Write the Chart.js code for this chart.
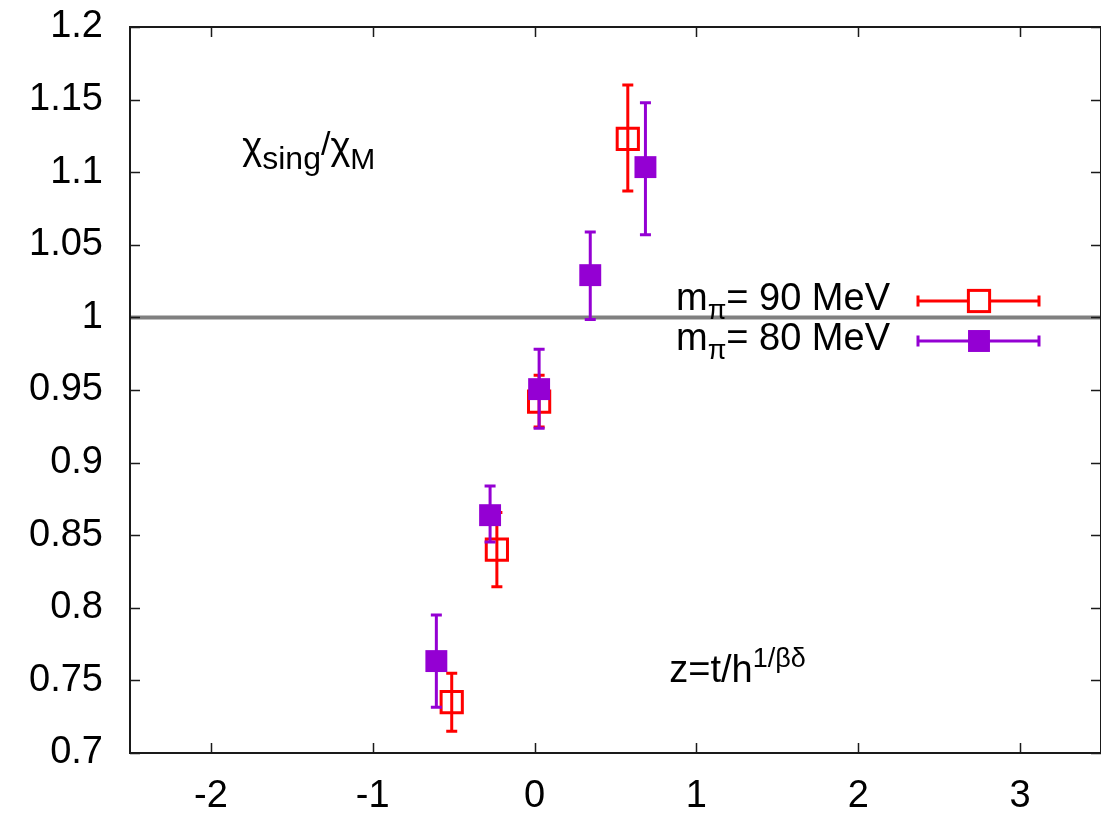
<!DOCTYPE html>
<html>
<head>
<meta charset="utf-8">
<script src="https://cdn.jsdelivr.net/npm/chart.js@4.4.1/dist/chart.umd.min.js"></script>
<style>
  html, body { margin: 0; padding: 0; background: #fff; }
  canvas { display: block; }
</style>
</head>
<body>
<canvas id="chart" width="1101" height="813"></canvas>
<script>
// axis ranges and ticks
const xMin = -2.5, xMax = 3.5;
const yMin = 0.7, yMax = 1.2;
const xTicks = [-2, -1, 0, 1, 2, 3];
const yTicks = [0.7, 0.75, 0.8, 0.85, 0.9, 0.95, 1, 1.05, 1.1, 1.15, 1.2];
const yTickLabels = ["0.7", "0.75", "0.8", "0.85", "0.9", "0.95", "1", "1.05", "1.1", "1.15", "1.2"];

// m_pi = 90 MeV (open red squares)
const x90 = [-0.512, -0.233, 0.028, 0.576];
const y90 = [0.735, 0.840, 0.942, 1.123];
const lo90 = [0.715, 0.8145, 0.9246, 1.087];
const hi90 = [0.755, 0.8657, 0.9602, 1.160];

// m_pi = 80 MeV (filled purple squares)
const x80 = [-0.607, -0.275, 0.028, 0.344, 0.685];
const y80 = [0.7633, 0.8638, 0.9506, 1.0291, 1.1035];
const lo80 = [0.7315, 0.8453, 0.9237, 0.9986, 1.0570];
const hi80 = [0.795, 0.8838, 0.9781, 1.0588, 1.1479];

const refLineY = 1;

const FONT = '"Liberation Sans", Arial, Helvetica, sans-serif';
const TICK_SIZE = 38;

function pts(xs, ys) {
    return xs.map((v, i) => ({x: v, y: ys[i]}));
}

// keep the plot box where it is, no extra room for tick labels
function noPad(s) {
    s.paddingTop = 0; s.paddingBottom = 0;
    s.paddingLeft = 0; s.paddingRight = 0;
}

/* ---------- ERROR BARS (drawn just before each dataset's points) ---------- */
const errorBars = {
    id: 'errorBars',
    beforeDatasetDraw(chart, args) {
        const ds = chart.data.datasets[args.index];
        if (!ds.errLow) return;
        const ctx = chart.ctx;
        const xs = chart.scales.x, ys = chart.scales.y;
        ctx.save();
        ctx.strokeStyle = ds.borderColor === 'transparent' ? ds.backgroundColor : ds.borderColor;
        ctx.lineWidth = ds.errWidth;
        ds.data.forEach((p, i) => {
            const px = xs.getPixelForValue(p.x);
            const pLo = ys.getPixelForValue(ds.errLow[i]);
            const pHi = ys.getPixelForValue(ds.errHigh[i]);
            ctx.beginPath();
            ctx.moveTo(px, pLo); ctx.lineTo(px, pHi);
            ctx.moveTo(px - 5.5, pLo); ctx.lineTo(px + 5.5, pLo);
            ctx.moveTo(px - 5.5, pHi); ctx.lineTo(px + 5.5, pHi);
            ctx.stroke();
        });
        ctx.restore();
    }
};

/* ---------- FRAME, INNER TICKS, LABELS, LEGEND ---------- */
function richText(ctx, parts, x, y) {
    // parts: [text, size, dy]
    let cx = x;
    parts.forEach(([t, size, dy]) => {
        ctx.font = size + 'px ' + FONT;
        ctx.fillText(t, cx, y + dy);
        cx += ctx.measureText(t).width;
    });
    return cx;
}

const decorations = {
    id: 'decorations',
    afterDraw(chart) {
        const ctx = chart.ctx;
        const a = chart.chartArea;
        const xs = chart.scales.x, ys = chart.scales.y;
        ctx.save();

        // frame
        ctx.strokeStyle = '#1a1a1a';
        ctx.lineWidth = 2;
        ctx.strokeRect(a.left, a.top, a.right - a.left, a.bottom - a.top);

        // inner ticks, mirrored
        ctx.lineWidth = 1.5;
        ctx.beginPath();
        xTicks.forEach(v => {
            const px = Math.round(xs.getPixelForValue(v)) + 0.5;
            ctx.moveTo(px, a.bottom); ctx.lineTo(px, a.bottom - 10);
            ctx.moveTo(px, a.top); ctx.lineTo(px, a.top + 10);
        });
        yTicks.forEach(v => {
            const py = Math.round(ys.getPixelForValue(v)) + 0.5;
            ctx.moveTo(a.left, py); ctx.lineTo(a.left + 10, py);
            ctx.moveTo(a.right, py); ctx.lineTo(a.right - 10, py);
        });
        ctx.stroke();

        // annotations
        ctx.fillStyle = '#000';
        ctx.textAlign = 'left';
        ctx.textBaseline = 'alphabetic';
        let bx = xs.getPixelForValue(-1.806), by = ys.getPixelForValue(1.109);
        richText(ctx, [['\u03c7', 38, 0], ['sing', 32, 10], ['/', 34, -4], ['\u03c7', 38, 0], ['M', 30, 10]], bx, by);

        bx = xs.getPixelForValue(0.832); by = ys.getPixelForValue(0.749);
        richText(ctx, [['z=t/h', 38, 0], ['1/\u03b2\u03b4', 27, -15]], bx, by);

        // legend
        const entries = chart.data.datasets.filter(d => d.legendText).sort((p, q) => p.legendRank - q.legendRank);
        entries.forEach((d, i) => {
            const rowY = a.top + 274 + i * 40;
            const txtRight = a.right - 211;
            const parts = [['m', 38, 0], ['\u03c0', 27, 9], ['= ' + d.legendText, 38, 0]];
            let w = 0;
            parts.forEach(([t, s]) => { ctx.font = s + 'px ' + FONT; w += ctx.measureText(t).width; });
            ctx.fillStyle = '#000';
            richText(ctx, parts, txtRight - w, rowY + 9);

            const x1 = a.right - 183, x2 = a.right - 62, xm = (x1 + x2) / 2 + 0.5;
            const col = d.backgroundColor === 'transparent' ? d.borderColor : d.backgroundColor;
            ctx.strokeStyle = col;
            ctx.lineWidth = d.errWidth;
            ctx.beginPath();
            ctx.moveTo(x1, rowY); ctx.lineTo(x2, rowY);
            ctx.moveTo(x1, rowY - 5.5); ctx.lineTo(x1, rowY + 5.5);
            ctx.moveTo(x2, rowY - 5.5); ctx.lineTo(x2, rowY + 5.5);
            ctx.stroke();
            const side = d.pointRadius * Math.SQRT2;
            if (d.backgroundColor === 'transparent') {
                ctx.fillStyle = '#fff';
                ctx.fillRect(xm - side / 2, rowY - side / 2, side, side);
                ctx.lineWidth = d.borderWidth;
                ctx.strokeRect(xm - side / 2, rowY - side / 2, side, side);
            } else {
                ctx.fillStyle = col;
                ctx.fillRect(xm - side / 2, rowY - side / 2, side, side);
            }
        });
        ctx.restore();
    }
};

new Chart(document.getElementById('chart'), {
    type: 'scatter',
    data: {
        datasets: [
            {
                label: '80 MeV',
                legendText: '80 MeV',
                legendRank: 1,
                data: pts(x80, y80),
                errLow: lo80,
                errHigh: hi80,
                errWidth: 3,
                pointStyle: 'rect',
                pointRadius: 15.5,
                backgroundColor: '#9400D3',
                borderColor: 'transparent',
                borderWidth: 0,
                order: 0
            },
            {
                label: '90 MeV',
                legendText: '90 MeV',
                legendRank: 0,
                data: pts(x90, y90),
                errLow: lo90,
                errHigh: hi90,
                errWidth: 3,
                pointStyle: 'rect',
                pointRadius: 15,
                backgroundColor: 'transparent',
                borderColor: '#FF0000',
                borderWidth: 3,
                order: 1
            },
            {
                type: 'line',
                label: 'ref',
                data: [{x: xMin, y: refLineY}, {x: xMax, y: refLineY}],
                borderColor: '#808080',
                borderWidth: 4,
                pointRadius: 0,
                order: 2
            }
        ]
    },
    options: {
        responsive: false,
        devicePixelRatio: 1,
        animation: false,
        events: [],
        layout: { autoPadding: false, padding: { top: 27, right: 0, left: 0, bottom: 0 } },
        plugins: {
            legend: { display: false },
            tooltip: { enabled: false }
        },
        scales: {
            x: {
                type: 'linear',
                min: xMin,
                max: xMax,
                grid: { display: false, drawTicks: false },
                border: { display: false },
                afterBuildTicks: s => { s.ticks = xTicks.map(v => ({value: v})); },
                afterFit: s => { s.height = 60; noPad(s); },
                ticks: {
                    color: '#000',
                    padding: 21,
                    font: { family: FONT, size: TICK_SIZE },
                    maxRotation: 0,
                    callback: v => String(v)
                }
            },
            y: {
                type: 'linear',
                min: yMin,
                max: yMax,
                grid: { display: false, drawTicks: false },
                border: { display: false },
                afterBuildTicks: s => { s.ticks = yTicks.map(v => ({value: v})); },
                afterFit: s => { s.width = 130; noPad(s); },
                ticks: {
                    color: '#000',
                    padding: 27,
                    font: { family: FONT, size: TICK_SIZE },
                    callback: (v, i) => yTickLabels[i]
                }
            }
        }
    },
    plugins: [errorBars, decorations]
});
</script>
</body>
</html>
